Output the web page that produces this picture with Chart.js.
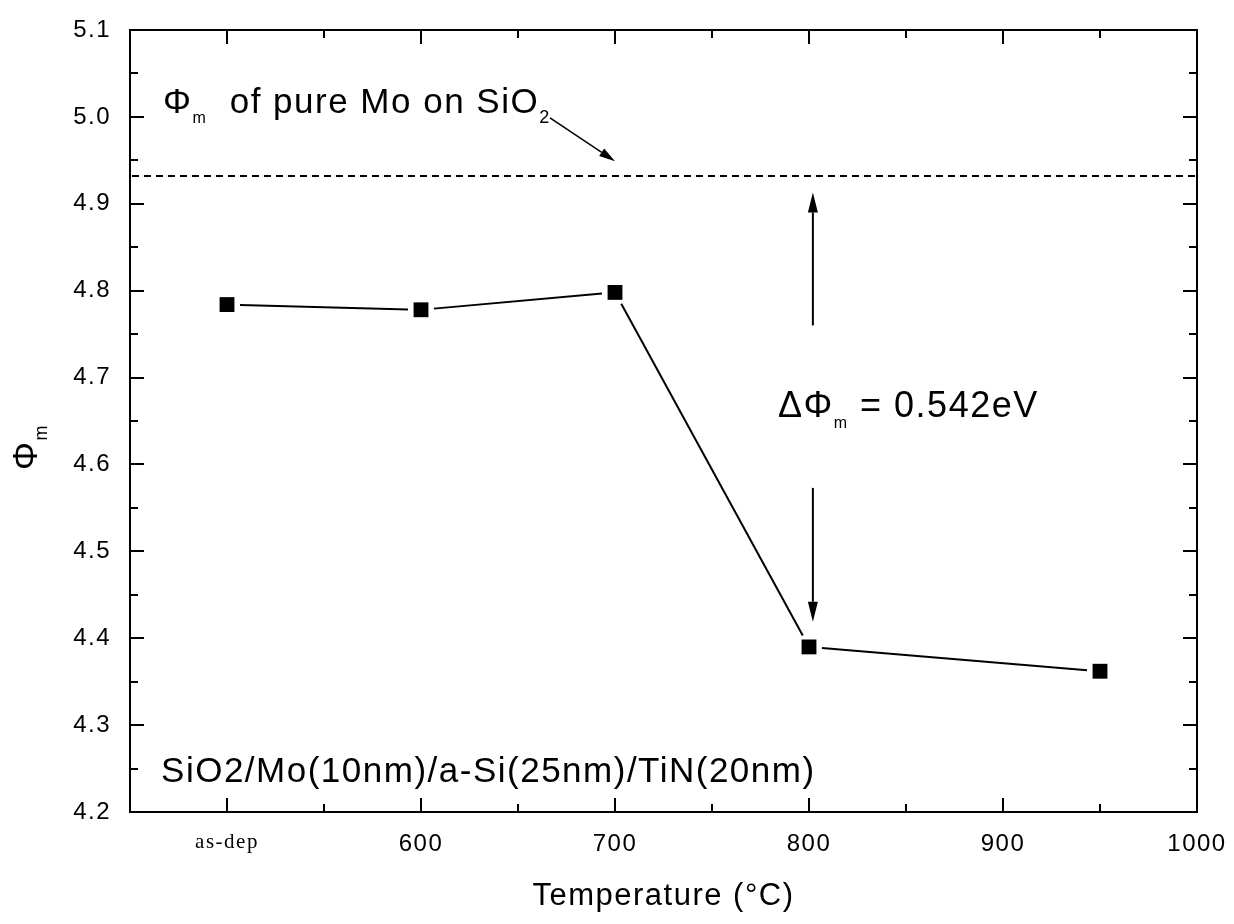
<!DOCTYPE html>
<html><head><meta charset="utf-8">
<script src="https://cdn.jsdelivr.net/npm/chart.js@4/dist/chart.umd.min.js"></script>
<style>html,body{margin:0;padding:0;background:#fff}#wrap{width:1234px;height:924px}</style>
</head><body><div id="wrap"><canvas id="c" width="1234" height="924"></canvas></div>
<script>
// ---- data ----
const temperatures = [500, 600, 700, 800, 950];          // 500 = "as-dep"
const workFunction = [4.784, 4.778, 4.798, 4.390, 4.362];
const xTickValues = [500, 600, 700, 800, 900, 1000];
const xTickLabels = ['as-dep', '600', '700', '800', '900', '1000'];
const yTickValues = [4.2, 4.3, 4.4, 4.5, 4.6, 4.7, 4.8, 4.9, 5.0, 5.1];
const pureMoLevel = 4.932;
const deltaPhi = '0.542eV';

// ---- styling / layout ----
const SANS = "'Liberation Sans', Arial, sans-serif";
const SERIF = "'Liberation Serif', 'Times New Roman', serif";
const SPACING = '1.5px';

const ann = {
  moText: {x: 467, y: 5.004},
  moArrow: {x1: 666.5, y1: 4.999, x2: 700, y2: 4.949},
  upArrow: {x: 802, y1: 4.760, y2: 4.913},
  downArrow: {x: 802, y1: 4.573, y2: 4.419},
  deltaText: {x: 784, y: 4.6545},
  stackText: {x: 466, y: 4.2345}
};

function midpoints(arr) {
  const out = [];
  for (let i = 0; i < arr.length - 1; i++) out.push((arr[i] + arr[i + 1]) / 2);
  return out;
}

function drawRich(ctx, parts, x, y, align) {
  let w = 0;
  parts.forEach(p => { ctx.font = p.size + 'px ' + (p.family || SANS); p.w = ctx.measureText(p.t).width; w += p.w; });
  let cx = align === 'center' ? x - w / 2 : x;
  ctx.textAlign = 'left';
  ctx.textBaseline = 'alphabetic';
  parts.forEach(p => {
    ctx.font = p.size + 'px ' + (p.family || SANS);
    ctx.fillText(p.t, cx, y + (p.dy || 0));
    cx += p.w;
  });
}

function arrow(ctx, x1, y1, x2, y2, len, half) {
  ctx.beginPath(); ctx.moveTo(x1, y1);
  const ang = Math.atan2(y2 - y1, x2 - x1);
  const bx = x2 - len * Math.cos(ang), by = y2 - len * Math.sin(ang);
  ctx.lineTo(bx, by); ctx.stroke();
  ctx.beginPath();
  ctx.moveTo(x2, y2);
  ctx.lineTo(bx + half * Math.sin(ang), by - half * Math.cos(ang));
  ctx.lineTo(bx - half * Math.sin(ang), by + half * Math.cos(ang));
  ctx.closePath(); ctx.fill();
}

// connecting line with small gaps around the markers (Origin style)
const gapLinePlugin = {
  id: 'gapLine',
  beforeDatasetsDraw(chart) {
    const pts = chart.getDatasetMeta(0).data;
    const ctx = chart.ctx;
    ctx.save();
    ctx.strokeStyle = '#000'; ctx.lineWidth = 2;
    for (let i = 0; i < pts.length - 1; i++) {
      const a = pts[i], b = pts[i + 1];
      const dx = b.x - a.x, dy = b.y - a.y, L = Math.hypot(dx, dy), g = 13;
      ctx.beginPath();
      ctx.moveTo(a.x + dx * g / L, a.y + dy * g / L);
      ctx.lineTo(b.x - dx * g / L, b.y - dy * g / L);
      ctx.stroke();
    }
    ctx.restore();
  }
};

const framePlugin = {
  id: 'frame',
  beforeDraw(chart) { try { chart.ctx.letterSpacing = SPACING; } catch (e) {} },
  afterDraw(chart) {
    const {ctx, chartArea: a, scales: {x, y}} = chart;
    ctx.save();
    ctx.strokeStyle = '#000'; ctx.fillStyle = '#000'; ctx.lineWidth = 2;
    ctx.strokeRect(a.left, a.top, a.right - a.left, a.bottom - a.top);
    const tick = (px, py, dx, dy) => { ctx.beginPath(); ctx.moveTo(px, py); ctx.lineTo(px + dx, py + dy); ctx.stroke(); };
    xTickValues.forEach(v => { const p = Math.round(x.getPixelForValue(v)); tick(p, a.bottom, 0, -14); tick(p, a.top, 0, 14); });
    midpoints(xTickValues).forEach(v => { const p = Math.round(x.getPixelForValue(v)); tick(p, a.bottom, 0, -8); tick(p, a.top, 0, 8); });
    yTickValues.forEach(v => { const p = Math.round(y.getPixelForValue(v)); tick(a.left, p, 14, 0); tick(a.right, p, -14, 0); });
    midpoints(yTickValues).forEach(v => { const p = Math.round(y.getPixelForValue(v)); tick(a.left, p, 8, 0); tick(a.right, p, -8, 0); });

    // reference level of pure Mo
    const yl = y.getPixelForValue(pureMoLevel);
    ctx.setLineDash([7, 5]);
    ctx.beginPath(); ctx.moveTo(a.left + 2, yl); ctx.lineTo(a.right, yl); ctx.stroke();
    ctx.setLineDash([]);

    // annotations
    try { ctx.letterSpacing = SPACING; } catch (e) {}
    drawRich(ctx, [{t: 'Φ', size: 35}, {t: 'm', size: 16, dy: 10}, {t: '  of pure Mo on SiO', size: 35}, {t: '2', size: 18, dy: 10}],
      x.getPixelForValue(ann.moText.x), y.getPixelForValue(ann.moText.y));
    ctx.lineWidth = 1.5;
    arrow(ctx, x.getPixelForValue(ann.moArrow.x1), y.getPixelForValue(ann.moArrow.y1),
      x.getPixelForValue(ann.moArrow.x2), y.getPixelForValue(ann.moArrow.y2), 16, 4.5);
    ctx.lineWidth = 2;
    const ax = x.getPixelForValue(ann.upArrow.x);
    arrow(ctx, ax, y.getPixelForValue(ann.upArrow.y1), ax, y.getPixelForValue(ann.upArrow.y2), 20, 5);
    arrow(ctx, ax, y.getPixelForValue(ann.downArrow.y1), ax, y.getPixelForValue(ann.downArrow.y2), 20, 5);
    drawRich(ctx, [{t: 'ΔΦ', size: 36}, {t: 'm', size: 16, dy: 11}, {t: ' = ' + deltaPhi, size: 36}],
      x.getPixelForValue(ann.deltaText.x), y.getPixelForValue(ann.deltaText.y));
    drawRich(ctx, [{t: 'SiO2/Mo(10nm)/a-Si(25nm)/TiN(20nm)', size: 35}],
      x.getPixelForValue(ann.stackText.x), y.getPixelForValue(ann.stackText.y));

    // axis titles
    drawRich(ctx, [{t: 'Temperature (°C)', size: 31}], (a.left + a.right) / 2, 905, 'center');
    ctx.save();
    ctx.translate(37, 447);
    ctx.rotate(-Math.PI / 2);
    drawRich(ctx, [{t: 'Φ', size: 35}, {t: 'm', size: 18, dy: 10}], 0, 0, 'center');
    ctx.restore();
    ctx.restore();
  }
};

new Chart(document.getElementById('c'), {
  type: 'line',
  data: {
    datasets: [{
      data: temperatures.map((t, i) => ({x: t, y: workFunction[i]})),
      showLine: false,
      borderColor: '#000', backgroundColor: '#000', borderWidth: 2,
      pointStyle: 'rect', pointRadius: 10.5, pointBorderWidth: 0,
      pointBackgroundColor: '#000', tension: 0
    }]
  },
  options: {
    responsive: false, animation: false, devicePixelRatio: 1,
    layout: {padding: {left: 0, top: 30, right: 37, bottom: 0}},
    plugins: {legend: {display: false}, tooltip: {enabled: false}, title: {display: false}},
    scales: {
      x: {
        type: 'linear', min: 450, max: 1000,
        grid: {display: false, drawTicks: false}, border: {display: false},
        afterFit: s => { s.height = 112; s.paddingLeft = 0; s.paddingRight = 0; },
        afterBuildTicks: s => { s.ticks = xTickValues.map(v => ({value: v})); },
        ticks: {
          padding: 18, color: '#000', maxRotation: 0, autoSkip: false,
          font: c => (c.tick && c.tick.value === xTickValues[0]) ? {family: SERIF, size: 21} : {family: SANS, size: 24},
          callback: v => xTickLabels[xTickValues.indexOf(v)]
        }
      },
      y: {
        type: 'linear', min: 4.2, max: 5.1,
        grid: {display: false, drawTicks: false}, border: {display: false},
        afterFit: s => { s.width = 130; s.paddingTop = 0; s.paddingBottom = 0; },
        afterBuildTicks: s => { s.ticks = yTickValues.map(v => ({value: v})); },
        ticks: {padding: 19, color: '#000', font: {family: SANS, size: 24}, callback: v => v.toFixed(1)}
      }
    }
  },
  plugins: [gapLinePlugin, framePlugin]
});
</script></body></html>
